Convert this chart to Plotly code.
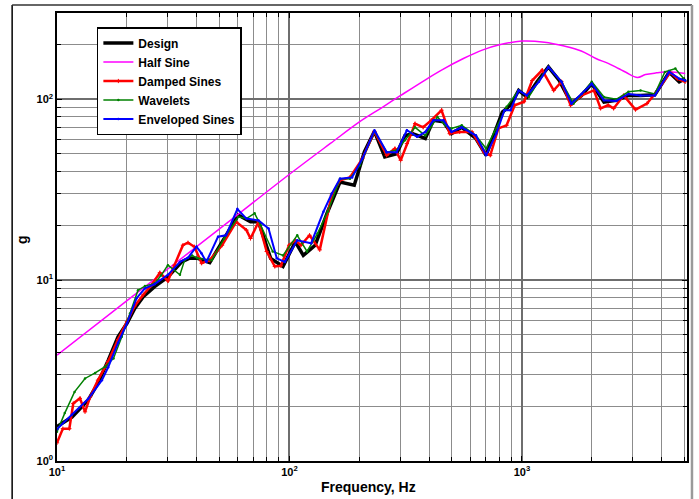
import numpy as np
import plotly.graph_objects as go

# ---- Shock response spectra (peak acceleration, g) vs natural frequency (Hz) ----
freq_design = [10, 11.6, 13.6, 15, 16.6, 18.3, 20, 21.6, 23.5, 26.3, 30, 34.3, 37, 40.3,
               45.4, 51.3, 60.2, 68, 73.6, 83, 93.8, 106, 114.7, 129, 146, 165, 190, 210,
               232, 257, 289, 314, 340, 384, 416, 460, 498, 551, 634, 701, 760, 824, 893,
               968, 1050, 1162, 1300, 1447, 1633, 1806, 1997, 2254, 2545, 2873, 3240,
               3730, 4300, 4750, 5040]
g_design = [1.55, 1.75, 2.17, 2.69, 3.6, 4.86, 5.77, 6.98, 8.1, 9.2, 10.4, 12.6, 13.2, 13.2,
            12.5, 16.3, 22.9, 21, 21, 13.2, 11.9, 16.3, 13.7, 15.6, 23.9, 34.9, 33.5, 51.2,
            66.5, 48, 50, 63, 64.5, 60.7, 76.5, 75, 64.6, 70, 60.7, 49, 64.6, 85, 92.7,
            112, 103, 125, 151, 127, 94.6, 105, 122, 96.6, 98.7, 105, 105,
            106, 141, 125, 130]

freq_half = [10, 20, 50, 100, 150, 200, 250, 301, 380, 451, 560, 675, 800, 1000, 1250,
             1520, 1800, 2080, 2350, 2600, 2800, 3140, 3400, 3800, 4240, 5040]
g_half = [3.85, 7.7, 19.2, 38.5, 57, 75, 90, 105, 127, 145, 168, 187, 200, 210, 207,
          197, 185, 168, 158, 148, 141, 132, 137, 140, 142, 139]

freq_damped = [10, 10.6, 11.3, 11.75, 12.55, 13.2, 13.9, 15, 16.6, 18.3, 20, 21.6, 23.5,
               25.5, 27.7, 30, 32, 34.8, 36.6, 39, 41.9, 45.4, 51.3, 59, 65.3, 68, 73.6,
               79.8, 86.5, 91.8, 99.6, 106, 112, 122, 135, 152, 165, 182, 206, 232, 262,
               284, 301, 320, 347, 376, 407, 451, 489, 540, 610, 687, 731, 792, 859, 931,
               1021, 1107, 1222, 1370, 1480, 1620, 1806, 2040, 2180, 2350, 2480, 2740,
               3080, 3450, 3730, 4350, 4660, 5040]
g_damped = [1.26, 1.51, 1.51, 2.08, 2.22, 1.87, 2.27, 2.8, 3.55, 4.7, 5.9, 7.2, 8.3,
            9.4, 11.0, 9.9, 12.1, 15.6, 16.1, 15.3, 12.4, 12.9, 15.6, 21, 18.9, 17, 21,
            14.4, 11.9, 12, 15.6, 16.6, 15.6, 17.7, 14.7, 29.5, 35.7, 37, 47, 66.5, 49,
            53.4, 46, 56.9, 73.4, 70, 76.5, 87, 64.6, 66, 66, 51, 49, 69, 71.8, 92.7,
            97, 127, 145, 112, 125, 92.7, 105, 112, 89, 92.7, 89, 105,
            87.7, 94.7, 107, 141, 130, 125]

freq_wavelet = [10, 10.8, 11.9, 13.2, 14.6, 16.1, 17.5, 19, 20.6, 22.3, 23.9, 26.3, 28, 30,
                33.8, 35.4, 38.1, 40.3, 46.3, 52.4, 60.2, 65.3, 70.8, 75.2, 84.7, 93.8,
                108, 119, 132, 146, 165, 182, 201, 232, 262, 289, 314, 347, 384, 433, 469,
                498, 551, 634, 701, 760, 859, 968, 1070, 1184, 1300, 1480, 1667, 1845,
                1997, 2254, 2545, 2873, 3240, 3730, 4120, 4570, 5040]
g_wavelet = [1.45, 1.84, 2.41, 2.86, 3.07, 3.32, 3.69, 4.86, 6.55, 8.8, 9.27, 9.6, 10.6, 12.1,
             10.7, 12.9, 13.7, 13.2, 12.9, 17, 22.4, 21.9, 23.4, 20.1, 14.4, 13.7,
             17.7, 14.4, 18.1, 23.9, 36.4, 36.4, 43.2, 66.5, 51, 52.2, 59.4, 70, 63, 79.8, 71.8,
             68.9, 71.8, 63, 53.4, 66, 90.8, 112, 103, 127, 151, 125, 94.6, 110,
             125, 103, 100, 110, 112, 107, 141.6, 148, 127]

freq_envelope = [10, 11.6, 13.6, 15.6, 16.6, 18.3, 20, 22, 23.9, 26.3, 30, 33.8, 36.6, 39.8,
                 41.8, 43.9, 49.3, 53.3, 59.7, 65.3, 73.6, 81.3, 88.2, 95.5, 108, 124, 140,
                 152, 165, 186, 206, 232, 262, 289, 320, 354, 384, 416, 460, 498, 551, 634,
                 701, 776, 841, 893, 968, 1050, 1184, 1300, 1480, 1633, 1806, 1997, 2254,
                 2545, 2873, 3240, 3730, 4300, 4750, 5040]
g_envelope = [1.5, 1.8, 2.2, 2.8, 3.3, 4.5, 5.77, 7.95, 9.0, 9.5, 10.7, 12.6, 13.3, 15.3,
              14.1, 12.6, 17.4, 17.7, 24.7, 21.9, 21.4, 19.3, 13.2, 12.6, 16.6, 16, 23.9,
              30.1, 36.4, 37, 47, 67.4, 51, 51, 67.4, 62, 66, 76.5, 76.5, 66, 70, 63,
              49, 64.6, 87, 87, 112, 105, 125, 151, 125, 94.6, 107, 122, 98.7,
              98, 107, 105, 105, 141.6, 130, 127]

x_ticks = [10, 100, 1000]
x_ticktext = ["<b>10<sup>1</sup></b>", "<b>10<sup>2</sup></b>", "<b>10<sup>3</sup></b>"]
y_ticks = [1, 10, 100]
y_ticktext = ["<b>10<sup>0</sup></b>", "<b>10<sup>1</sup></b>", "<b>10<sup>2</sup></b>"]

FONT = "Arial, Liberation Sans, Helvetica, sans-serif"

fig = go.Figure()
fig.add_trace(go.Scatter(x=freq_design, y=g_design, name="<b>Design</b>", mode="lines",
                         line=dict(color="#000000", width=3.5)))
fig.add_trace(go.Scatter(x=freq_half, y=g_half, name="<b>Half Sine</b>", mode="lines",
                         line=dict(color="#ff00ff", width=1.5), line_shape="spline"))
fig.add_trace(go.Scatter(x=freq_damped, y=g_damped, name="<b>Damped Sines</b>",
                         mode="lines+markers", line=dict(color="#ff0000", width=2.5),
                         marker=dict(symbol="cross-thin", size=3,
                                     line=dict(color="#ff0000", width=1))))
fig.add_trace(go.Scatter(x=freq_wavelet, y=g_wavelet, name="<b>Wavelets</b>",
                         mode="lines+markers", line=dict(color="#008000", width=1.5),
                         marker=dict(symbol="circle", size=2.5, color="#008000")))
fig.add_trace(go.Scatter(x=freq_envelope, y=g_envelope, name="<b>Enveloped Sines</b>",
                         mode="lines+markers", line=dict(color="#0000ff", width=2),
                         marker=dict(symbol="circle", size=2.5, color="#0000ff")))

# minor grid positions at every digit within each decade
x_minor = [d * 10.0 ** e for e in range(1, 4) for d in range(2, 10) if d * 10.0 ** e < 5200]
y_minor = [d * 10.0 ** e for e in range(0, 3) for d in range(2, 10) if d * 10.0 ** e < 300]

axis_common = dict(
    type="log", showline=True, linecolor="#000000", linewidth=1.5, mirror="allticks",
    ticks="inside", ticklen=5, tickcolor="#000000", tickwidth=1,
    showgrid=True, gridcolor="#6e6e6e", gridwidth=1.5, zeroline=False,
    tickfont=dict(family=FONT, size=11, color="#000000"),
)

fig.update_xaxes(**axis_common, range=[1, np.log10(5130)], tickmode="array",
                 tickvals=x_ticks, ticktext=x_ticktext,
                 minor=dict(tickmode="array", tickvals=x_minor, ticks="inside", ticklen=4,
                            tickcolor="#000000", showgrid=True, gridcolor="#8c8c8c",
                            gridwidth=1))
fig.update_yaxes(**axis_common, range=[0, np.log10(300)], tickmode="array",
                 tickvals=y_ticks, ticktext=y_ticktext,
                 minor=dict(tickmode="array", tickvals=y_minor, ticks="inside", ticklen=4,
                            tickcolor="#000000", showgrid=True, gridcolor="#8c8c8c",
                            gridwidth=1))

L, R, T, B = 57, 10, 13, 38
W, H = 699, 499
pw, ph = W - L - R, H - T - B


def px(xp):
    return (xp - L) / pw


def py(yp):
    return (H - B - yp) / ph


fig.update_layout(
    width=W, height=H,
    margin=dict(l=L, r=R, t=T, b=B),
    paper_bgcolor="#ffffff", plot_bgcolor="#ffffff",
    font=dict(family=FONT, color="#000000"),
    showlegend=True,
    legend=dict(x=px(97), y=py(27), xanchor="left", yanchor="top",
                bgcolor="#ffffff", bordercolor="#000000", borderwidth=1.5,
                font=dict(family=FONT, size=12, color="#000000"),
                tracegroupgap=0, itemwidth=30),
    annotations=[
        dict(text="<b>Frequency, Hz</b>", x=px(369), y=py(487), xref="paper", yref="paper",
             showarrow=False, font=dict(family=FONT, size=14, color="#000000"),
             xanchor="center", yanchor="middle"),
        dict(text="<b>g</b>", x=px(22), y=py(240), xref="paper", yref="paper",
             showarrow=False, textangle=-90, font=dict(family=FONT, size=14, color="#000000"),
             xanchor="center", yanchor="middle"),
    ],
    shapes=[
        dict(type="line", xref="paper", yref="paper", x0=px(12), x1=px(12),
             y0=py(5), y1=py(505), line=dict(color="#000000", width=1.5)),
        dict(type="line", xref="paper", yref="paper", x0=px(12), x1=px(694),
             y0=py(5), y1=py(5), line=dict(color="#333333", width=1.5)),
        dict(type="line", xref="paper", yref="paper", x0=px(694), x1=px(694),
             y0=py(5), y1=py(505), line=dict(color="#9a9a9a", width=2.5)),
    ],
)

fig.write_html("out.html")
